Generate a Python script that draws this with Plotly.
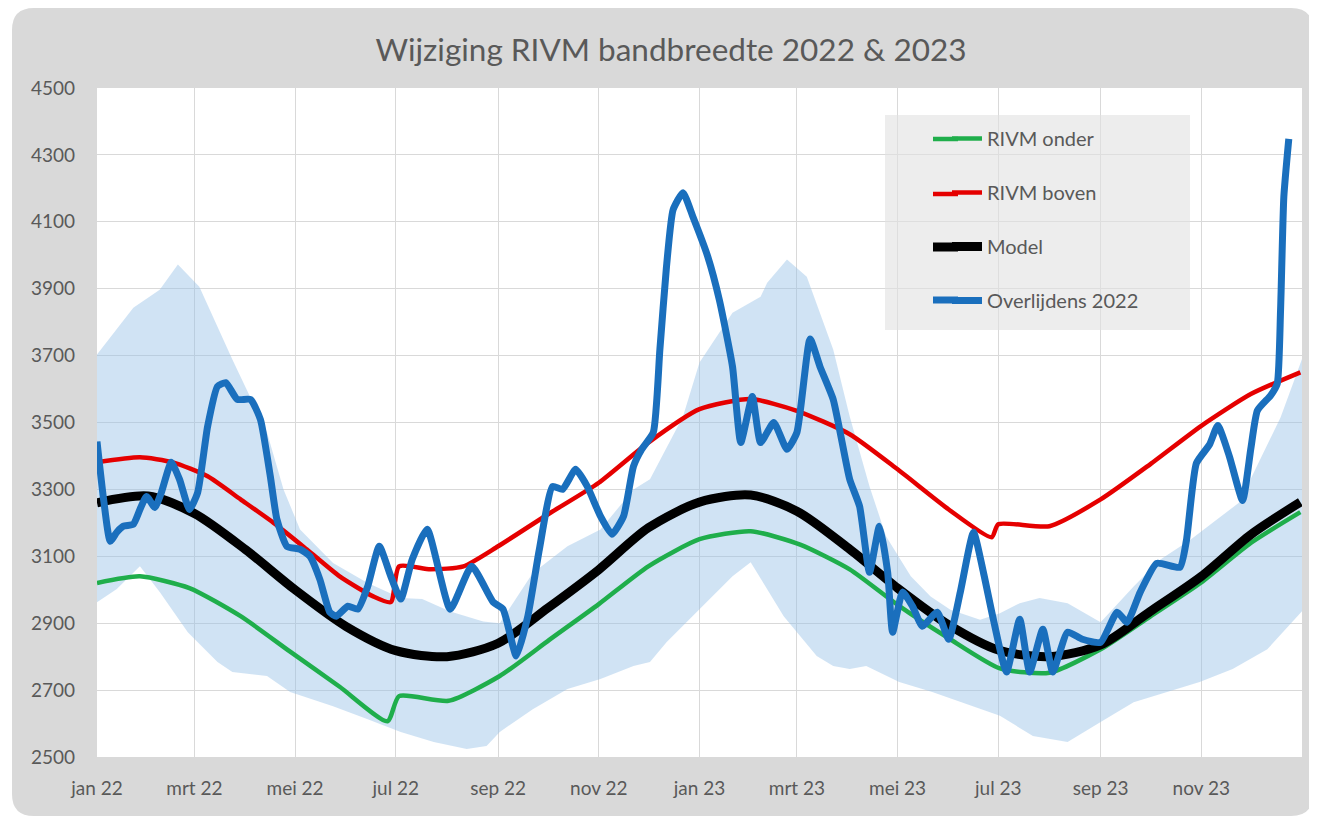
import pandas as pd
import plotly.graph_objects as go

BASE = pd.Timestamp("2022-01-01")

# ---- data (day offset from 1 Jan 2022, value) ----
band_upper_days = [0, 22, 38, 49, 62, 82, 103, 113, 123, 143, 164, 184, 197, 214, 234, 244, 264, 285, 305, 325,
                   335, 355, 365, 385, 402, 406, 418, 430, 446, 456, 468, 478, 493, 505, 517, 535, 547, 559, 571,
                   588, 608, 628, 644, 662, 692, 717, 730]
band_upper_vals = [3703, 3843, 3897, 3972, 3906, 3688, 3470, 3300, 3180, 3080, 3020, 2975, 2972, 2935, 2905, 2900,
                   3050, 3130, 3180, 3300, 3330, 3518, 3679, 3828, 3876, 3918, 3987, 3936, 3718, 3518, 3309, 3160,
                   3040, 2980, 2940, 2910, 2930, 2960, 2975, 2960, 2903, 3010, 3090, 3148, 3261, 3515, 3690]
band_lower_days = [0, 12, 26, 38, 55, 73, 82, 103, 117, 143, 164, 184, 204, 224, 236, 244, 264, 285, 305, 325,
                   335, 345, 365, 385, 396, 416, 436, 446, 456, 466, 486, 506, 547, 567, 588, 608, 628, 668, 688,
                   709, 730]
band_lower_vals = [2963, 3002, 3070, 2993, 2873, 2784, 2754, 2742, 2694, 2652, 2613, 2575, 2545, 2524, 2533, 2575,
                   2643, 2703, 2733, 2772, 2784, 2843, 2942, 3040, 3082, 2921, 2802, 2772, 2763, 2772, 2724, 2694,
                   2623, 2563, 2545, 2605, 2664, 2724, 2763, 2822, 2936]

onder_days = [0, 26, 56, 87, 117, 147, 176, 183, 213, 244, 274, 304, 334, 365, 396, 426, 456, 485, 516, 547, 577,
              608, 638, 669, 699, 729]
onder_vals = [3020, 3040, 3005, 2921, 2815, 2710, 2607, 2682, 2668, 2742, 2850, 2957, 3070, 3151, 3175, 3135, 3061,
              2955, 2855, 2765, 2752, 2822, 2920, 3022, 3140, 3232]

boven_days = [0, 26, 46, 67, 87, 107, 127, 147, 167, 178, 183, 202, 222, 243, 273, 304, 334, 365, 396, 424, 456,
              485, 516, 542, 546, 577, 608, 638, 669, 699, 729]
boven_vals = [3381, 3396, 3381, 3339, 3270, 3200, 3121, 3040, 2981, 2963, 3070, 3061, 3070, 3130, 3225, 3320, 3440,
              3540, 3570, 3535, 3465, 3360, 3240, 3157, 3196, 3190, 3270, 3375, 3490, 3585, 3650]

model_days = [0, 31, 59, 90, 120, 151, 181, 212, 243, 273, 304, 334, 365, 396, 424, 455, 485, 516, 546, 577, 608,
              638, 669, 699, 729]
model_vals = [3260, 3280, 3228, 3120, 3000, 2890, 2818, 2800, 2840, 2945, 3060, 3185, 3262, 3283, 3235, 3125, 3005,
              2895, 2820, 2800, 2835, 2935, 3040, 3165, 3262]

overl_days = [0, 4, 8, 12, 16, 22, 26, 30, 35, 39, 45, 50, 56, 61, 67, 73, 78, 85, 93, 99, 105, 109, 115, 123, 129,
              135, 141, 145, 152, 158, 164, 171, 178, 184, 191, 200, 214, 227, 240, 246, 254, 261, 268, 276, 282,
              290, 297, 305, 312, 319, 325, 330, 337, 341, 345, 349, 355, 361, 370, 377, 385, 390, 397, 402, 410,
              418, 424, 432, 438, 446, 456, 462, 468, 474, 479, 482, 488, 494, 500, 509, 516, 523, 531, 537, 543,
              551, 559, 565, 573, 579, 588, 597, 608, 618, 624, 632, 642, 656, 660, 666, 674, 679, 686, 694, 699,
              703, 711, 715, 717, 719, 722]
overl_vals = [3443, 3270, 3145, 3172, 3190, 3196, 3240, 3279, 3246, 3291, 3381, 3330, 3240, 3291, 3488, 3608, 3619,
              3569, 3569, 3509, 3339, 3210, 3130, 3121, 3100, 3031, 2933, 2921, 2951, 2942, 3010, 3130, 3040, 2972,
              3091, 3181, 2942, 3070, 2963, 2942, 2802, 2921, 3121, 3309, 3300, 3360, 3309, 3220, 3166, 3220, 3369,
              3420, 3470, 3718, 3966, 4136, 4187, 4115, 3996, 3867, 3667, 3440, 3578, 3440, 3500, 3420, 3470, 3750,
              3667, 3569, 3330, 3249, 3052, 3190, 3052, 2873, 2993, 2951, 2891, 2933, 2852, 2993, 3172, 3052, 2912,
              2754, 2912, 2754, 2882, 2754, 2873, 2852, 2843, 2933, 2903, 2993, 3079, 3067, 3148, 3378, 3434, 3491,
              3399, 3267, 3422, 3536, 3581, 3616, 3834, 4175, 4348]

tick_dates = ["2022-01-01", "2022-03-01", "2022-05-01", "2022-07-01", "2022-09-01", "2022-11-01",
              "2023-01-01", "2023-03-01", "2023-05-01", "2023-07-01", "2023-09-01", "2023-11-01"]
tick_labels = ["jan 22", "mrt 22", "mei 22", "jul 22", "sep 22", "nov 22",
               "jan 23", "mrt 23", "mei 23", "jul 23", "sep 23", "nov 23"]
y_ticks = [2500, 2700, 2900, 3100, 3300, 3500, 3700, 3900, 4100, 4300, 4500]


def to_dates(days):
    return BASE + pd.to_timedelta(days, unit="D")


FONT = "Lato"
GREY = "#595959"
C_ONDER, C_BOVEN, C_MODEL, C_OVERL = "#1fae4b", "#e50000", "#000000", "#1a6fbd"
W_ONDER, W_BOVEN, W_MODEL, W_OVERL = 4.5, 4.5, 9, 7

# page has an 8px body margin: figure is placed at (8, 8)
OFF = 8
W, H = 1317 - OFF, 821 - OFF
L, R, T, B = 97 - OFF, 1302 - OFF, 88 - OFF, 757 - OFF   # plot area in figure px


def fx(page_x):
    return (page_x - OFF - L) / (R - L)


def fy(page_y):
    return (B - (page_y - OFF)) / (B - T)


fig = go.Figure()

# shaded band (polygon: upper edge forward, lower edge backward)
band_x = list(to_dates(band_upper_days)) + list(to_dates(band_lower_days))[::-1]
band_y = band_upper_vals + band_lower_vals[::-1]
fig.add_trace(go.Scatter(x=band_x, y=band_y, fill="toself", mode="lines",
                         line=dict(width=0), fillcolor="rgba(150,192,230,0.45)",
                         showlegend=False, hoverinfo="skip"))

fig.add_trace(go.Scatter(x=to_dates(onder_days), y=onder_vals, mode="lines", name="RIVM onder",
                         legendgroup="a", line=dict(color=C_ONDER, width=W_ONDER, shape="spline", smoothing=0.6)))
fig.add_trace(go.Scatter(x=to_dates(boven_days), y=boven_vals, mode="lines", name="RIVM boven",
                         legendgroup="b", line=dict(color=C_BOVEN, width=W_BOVEN, shape="spline", smoothing=0.6)))
fig.add_trace(go.Scatter(x=to_dates(model_days), y=model_vals, mode="lines", name="Model",
                         legendgroup="c", line=dict(color=C_MODEL, width=W_MODEL, shape="spline", smoothing=0.8)))
fig.add_trace(go.Scatter(x=to_dates(overl_days), y=overl_vals, mode="lines", name="Overlijdens 2022",
                         legendgroup="d", line=dict(color=C_OVERL, width=W_OVERL, shape="spline", smoothing=0.5)))

# grey rounded frame with a hole over the plot area
ox0, ox1, oy0, oy1 = fx(12), fx(1313), fy(816), fy(8)
ix0, ix1, iy0, iy1 = 0, 1, 0, 1
rx, ry = 22 / (R - L), 22 / (B - T)
frame_path = (
    f"M{ox0+rx},{oy1} L{ox1-rx},{oy1} Q{ox1},{oy1} {ox1},{oy1-ry} L{ox1},{oy0+ry} Q{ox1},{oy0} {ox1-rx},{oy0} "
    f"L{ox0+rx},{oy0} Q{ox0},{oy0} {ox0},{oy0+ry} L{ox0},{oy1-ry} Q{ox0},{oy1} {ox0+rx},{oy1} Z "
    f"M{ix0},{iy1} L{ix0},{iy0} L{ix1},{iy0} L{ix1},{iy1} Z"
)

shapes = [
    dict(type="path", path=frame_path, xref="paper", yref="paper", fillcolor="#d9d9d9",
         line=dict(width=0), layer="below"),
    dict(type="rect", xref="paper", yref="paper", x0=fx(885), x1=fx(1190), y0=fy(330), y1=fy(115),
         fillcolor="rgba(225,225,225,0.6)", line=dict(width=0), layer="above"),
]
# lengthen the legend key lines to the reference's longer keys
for yy, col, wd in [(139, C_ONDER, W_ONDER), (194, C_BOVEN, W_BOVEN), (247, C_MODEL, W_MODEL),
                    (300, C_OVERL, W_OVERL)]:
    shapes.append(dict(type="line", xref="paper", yref="paper", x0=fx(933), x1=fx(958), y0=fy(yy), y1=fy(yy),
                       line=dict(color=col, width=wd), layer="above"))

fig.update_layout(
    width=W, height=H,
    margin=dict(l=L, r=W - R, t=T, b=H - B),
    paper_bgcolor="#ffffff",
    plot_bgcolor="#ffffff",
    font=dict(family=FONT, color=GREY),
    title=dict(text="Wijziging RIVM bandbreedte 2022 & 2023", x=(671 - OFF) / W, xanchor="center",
               y=1 - (50 - OFF) / H, yanchor="middle", font=dict(family=FONT, size=31.5, color=GREY)),
    showlegend=True,
    legend=dict(x=fx(947), y=fy(119), xanchor="left", yanchor="top", bgcolor="rgba(0,0,0,0)",
                font=dict(family=FONT, size=20, color=GREY), tracegroupgap=25, itemwidth=30),
    shapes=shapes,
)

fig.update_xaxes(type="date", range=[BASE, BASE + pd.Timedelta(days=730)], tickvals=tick_dates,
                 ticktext=tick_labels, showgrid=True, gridcolor="#d9d9d9", gridwidth=1, zeroline=False,
                 showline=False, ticks="", ticklabelstandoff=18, tickfont=dict(family=FONT, size=19, color=GREY))
fig.update_yaxes(range=[2500, 4500], tickvals=y_ticks, showgrid=True, gridcolor="#d9d9d9", gridwidth=1,
                 zeroline=False, showline=False, ticks="", ticklabelstandoff=21,
                 tickfont=dict(family=FONT, size=19, color=GREY))

fig.write_html("out.html")
